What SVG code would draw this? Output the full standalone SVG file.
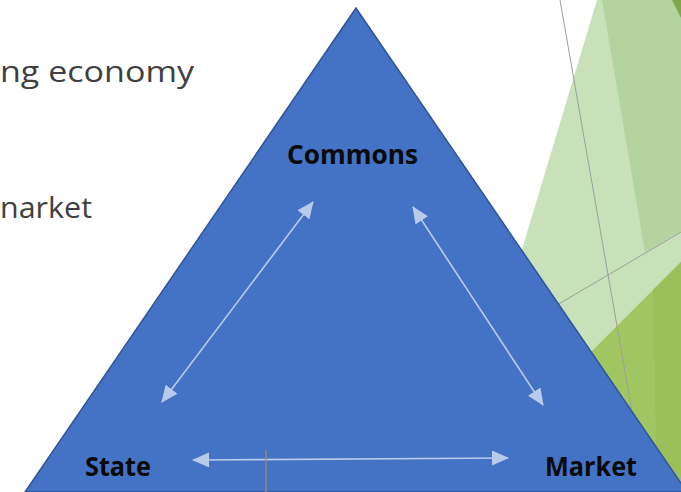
<svg xmlns="http://www.w3.org/2000/svg" width="681" height="492" viewBox="0 0 681 492">
<defs>
<style>
.bg{font-family:"Open Sans","DejaVu Sans",sans-serif;font-size:30px;fill:#404040}
.lbl{font-family:"Open Sans","Liberation Sans",sans-serif;font-size:27px;font-weight:bold;fill:#0a0a0a}
.conn{stroke:#B9CBEA;stroke-width:1.6;fill:none}
.thin{stroke:#9E9E9E;stroke-width:1;fill:none}
</style>
<marker id="ah" viewBox="0 0 17 15" refX="16" refY="7.5" markerWidth="17" markerHeight="15" markerUnits="userSpaceOnUse" orient="auto-start-reverse">
<path d="M0,0 L17,7.5 L0,15 Z" fill="#B9CBEA"/>
</marker>
</defs>
<rect width="681" height="492" fill="#FFFFFF"/>
<g id="decor">
<polygon points="597,0 681,0 681,492 449,492" fill="#C8E1B8"/>
<polygon points="602,0 681,0 681,231 645,252" fill="#B3D49F"/>
<polygon points="672,0 681,0 681,18" fill="#7EA84A"/>
<polygon points="560,383 681,262 681,492 600,492" fill="#9FC661"/>
<polygon points="653,290 681,262 681,492 657,492" fill="#99C059"/>
<line class="thin" x1="560" y1="0" x2="646" y2="492"/>
<line class="thin" x1="540" y1="315" x2="681" y2="232" stroke="#A6B89A"/>
</g>
<g id="left-text">
<text class="bg" x="0" y="82" textLength="194" lengthAdjust="spacingAndGlyphs">ng economy</text>
<text class="bg" x="0" y="218" textLength="92" lengthAdjust="spacingAndGlyphs">narket</text>
</g>
<g id="triangle">
<polygon points="356,8 25,492 687,492" fill="#4472C4" stroke="#2F5597" stroke-width="1.5" stroke-linejoin="miter"/>
</g>
<g id="connectors">
<line class="conn" x1="313" y1="202" x2="162" y2="402" marker-start="url(#ah)" marker-end="url(#ah)"/>
<line class="conn" x1="413" y1="207" x2="543" y2="405" marker-start="url(#ah)" marker-end="url(#ah)"/>
<line class="conn" x1="193" y1="460" x2="508" y2="458" marker-start="url(#ah)" marker-end="url(#ah)"/>
<line x1="266" y1="450" x2="266" y2="492" stroke="#8E8A80" stroke-width="1.5"/>
</g>
<g id="node-commons">
<text class="lbl" x="287" y="164" textLength="131" lengthAdjust="spacingAndGlyphs">Commons</text>
</g>
<g id="node-state">
<text class="lbl" x="85" y="476" textLength="66" lengthAdjust="spacingAndGlyphs">State</text>
</g>
<g id="node-market">
<text class="lbl" x="545" y="476" textLength="92" lengthAdjust="spacingAndGlyphs">Market</text>
</g>
</svg>
